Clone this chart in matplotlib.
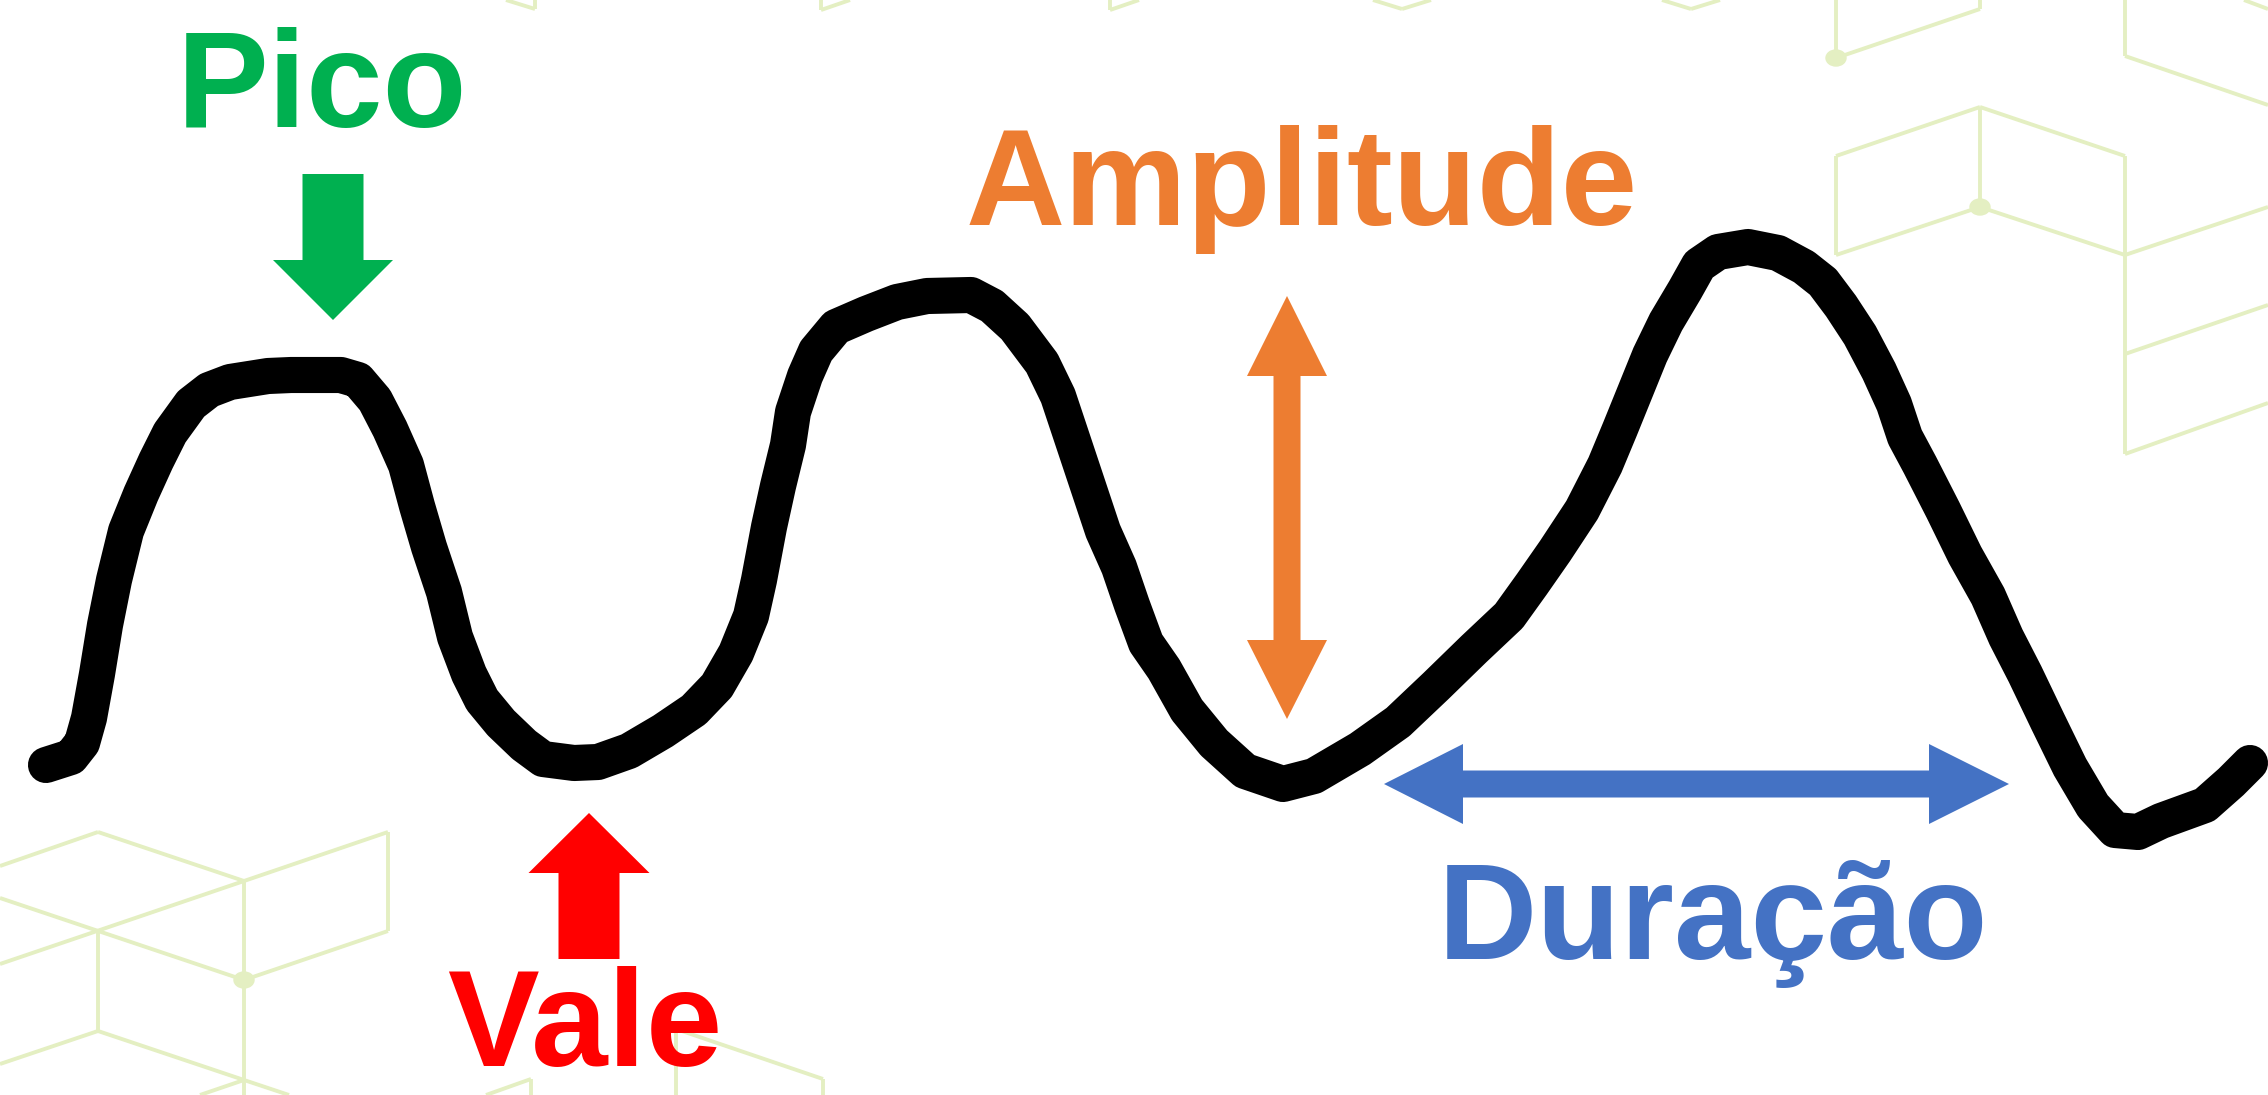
import matplotlib
matplotlib.use("Agg")
import matplotlib.pyplot as plt
from matplotlib.collections import LineCollection
from matplotlib.patches import FancyArrow, Ellipse

# hand drawn wave (pixel coords of the picture, y grows downwards)
wave_x = [46, 71, 82, 89, 97, 105, 114, 126, 141, 156, 170, 191, 209, 230, 268, 291,
          341, 358, 375, 390, 406, 417, 429, 444, 455, 469, 482, 501, 524, 543, 574, 598,
          629, 663, 694, 717, 736, 751, 759, 769, 778, 788, 793, 805, 816, 836, 866, 897,
          927, 971, 992, 1015, 1042, 1058, 1073, 1088, 1103, 1119, 1132, 1146, 1164, 1187,
          1214, 1245, 1283, 1314, 1360, 1398, 1436, 1474, 1509, 1532, 1555, 1582, 1605,
          1620, 1635, 1650, 1666, 1685, 1699, 1718, 1748, 1778, 1804, 1823, 1841, 1860,
          1879, 1894, 1905, 1920, 1943, 1965, 1988, 2006, 2025, 2048, 2070, 2093, 2115,
          2138, 2161, 2205, 2231, 2250]
wave_y = [765, 757, 743, 718, 674, 625, 580, 531, 494, 461, 433, 404, 390, 382, 376, 375,
          375, 380, 400, 429, 465, 506, 547, 592, 637, 674, 700, 723, 745, 759, 763, 762,
          751, 731, 710, 686, 653, 616, 580, 527, 486, 445, 412, 376, 351, 327, 314, 302,
          296, 295, 306, 327, 363, 396, 441, 486, 531, 567, 605, 643, 669, 710,
          743, 771, 784, 776, 749, 722, 686, 649, 616, 584, 551, 510, 465,
          429, 392, 355, 322, 290, 265, 252, 247, 253, 267, 282, 306, 335,
          371, 404, 437, 465, 510, 555, 596, 637, 674, 722, 767, 806, 830,
          832, 821, 805, 782, 763]

labels = ["Pico", "Amplitude", "Vale", "Duração"]
label_colors = ["#00B050", "#ED7D31", "#FF0000", "#4472C4"]

# decorative cube lattice in the background
grid_segments = [
    # top right
    [(1836, 0), (1836, 58)], [(1836, 58), (1980, 9)], [(1980, 0), (1980, 9)],
    [(2125, 0), (2125, 56)], [(2125, 56), (2268, 105)], [(2244, 0), (2268, 9)],
    [(1836, 156), (1980, 107)], [(1980, 107), (2125, 156)], [(1836, 156), (1836, 255)],
    [(1836, 255), (1980, 207)], [(1980, 207), (2125, 255)], [(1980, 107), (1980, 207)],
    [(2125, 156), (2125, 454)], [(2125, 255), (2268, 207)], [(2125, 354), (2268, 305)],
    [(2125, 454), (2268, 403)],
    # bottom left
    [(0, 866), (98, 832)], [(98, 832), (244, 881)], [(244, 881), (388, 832)],
    [(388, 832), (388, 931)], [(388, 931), (244, 980)], [(244, 881), (244, 1095)],
    [(0, 898), (244, 980)], [(0, 964), (244, 881)], [(98, 931), (98, 1031)],
    [(98, 1031), (0, 1064)], [(98, 1031), (244, 1080)], [(244, 1080), (200, 1095)],
    [(244, 1080), (289, 1095)],
    # bottom middle
    [(531, 1079), (531, 1095)], [(531, 1079), (486, 1095)], [(676, 1029), (676, 1095)],
    [(676, 1029), (823, 1079)], [(823, 1079), (823, 1095)],
    # top edge
    [(506, 0), (535, 9)], [(535, 0), (535, 9)], [(821, 10), (850, 0)], [(821, 0), (821, 10)],
    [(1110, 10), (1139, 0)], [(1110, 0), (1110, 10)],
    [(1373, 0), (1402, 9)], [(1402, 9), (1431, 0)],
    [(1662, 0), (1691, 9)], [(1691, 9), (1720, 0)],
]
grid_dots = [(1836, 58), (1980, 207), (244, 980)]

W, H = 2268, 1095
fig = plt.figure(figsize=(W / 100, H / 100), dpi=100)
ax = fig.add_axes([0, 0, 1, 1])
ax.set_xlim(0, W)
ax.set_ylim(H, 0)
ax.axis("off")

grid_col = "#E4EFC2"
ax.add_collection(LineCollection(grid_segments, colors=grid_col, linewidths=2.8, zorder=1))
for (gx, gy) in grid_dots:
    ax.add_patch(Ellipse((gx, gy), 20, 16, color=grid_col, zorder=1))

ax.plot(wave_x, wave_y, color="black", lw=26, solid_capstyle="round",
        solid_joinstyle="round", zorder=3)

# arrows
def arrow(x, y, x2, y2, w, hw, hl, c):
    ax.add_patch(FancyArrow(x, y, x2 - x, y2 - y, width=w, head_width=hw, head_length=hl,
                            length_includes_head=True, color=c, lw=0, zorder=2))

arrow(333, 174, 333, 320, 61, 120, 60, label_colors[0])
arrow(589, 959, 589, 813, 61, 121, 60, label_colors[2])
arrow(1287, 508, 1287, 296, 27, 80, 80, label_colors[1])
arrow(1287, 508, 1287, 719, 27, 80, 79, label_colors[1])
arrow(1696, 784, 1384, 784, 27, 80, 79, label_colors[3])
arrow(1696, 784, 2009, 784, 27, 80, 80, label_colors[3])

txt_pos = [(322, 127), (1302, 225), (585, 1066), (1713, 959)]
for lab, col, (tx, ty) in zip(labels, label_colors, txt_pos):
    ax.text(tx, ty, lab, color=col, fontsize=99, fontweight="bold",
            family=["Liberation Sans", "DejaVu Sans"], ha="center", va="baseline", zorder=4)

fig.savefig("out.png", dpi=100, facecolor="white")
